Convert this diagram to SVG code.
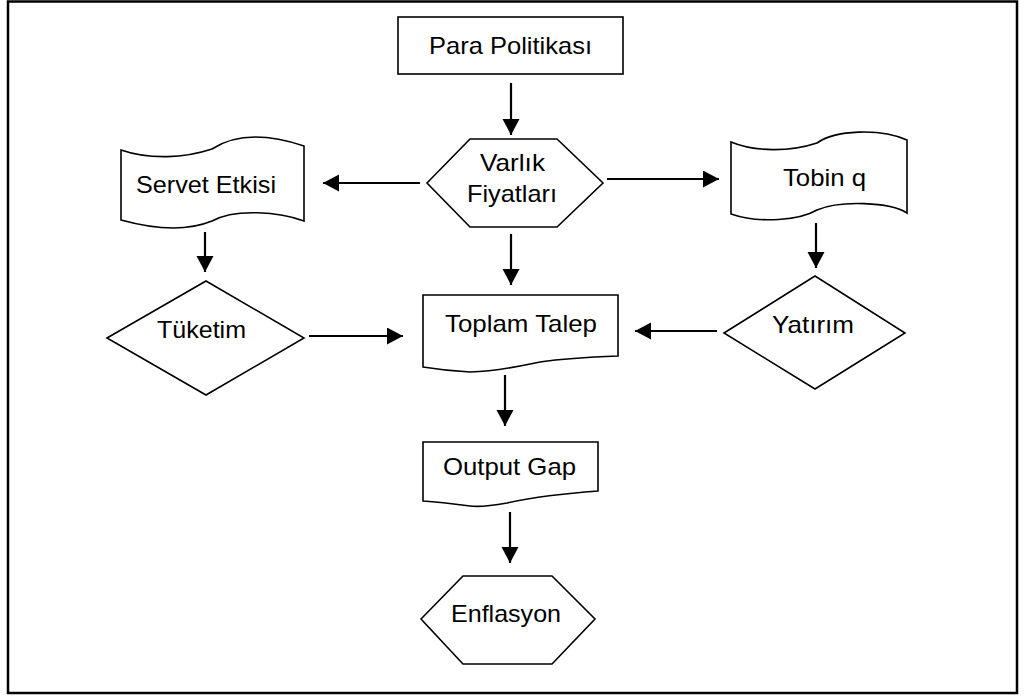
<svg xmlns="http://www.w3.org/2000/svg" width="1025" height="696" viewBox="0 0 1025 696">
<defs>
<style>
.shape{fill:#fff;stroke:#000;stroke-width:1.6;stroke-linejoin:miter}
.conn{stroke:#000;stroke-width:2.2;fill:none}
text{font-family:"Liberation Sans",Arial,sans-serif;font-size:24px;fill:#000}
</style>
<marker id="ah" markerUnits="userSpaceOnUse" markerWidth="18" markerHeight="18" refX="16" refY="8.5" orient="auto" viewBox="0 0 18 18">
<path d="M0,0 L16,8.5 L0,17 Z" fill="#000"/>
</marker>
</defs>
<rect x="0" y="0" width="1025" height="696" fill="#fff"/>
<rect id="frame" x="8" y="1.5" width="1009" height="691.5" fill="none" stroke="#000" stroke-width="2.5"/>

<g id="para">
<rect class="shape" x="398" y="17" width="225" height="57"/>
<text x="429" y="54" textLength="163" lengthAdjust="spacingAndGlyphs">Para Politikası</text>
</g>
<g id="varlik">
<polygon class="shape" points="427,183 470,139 557,139 603,183 557,227 470,227"/>
<text x="480" y="171" textLength="65" lengthAdjust="spacingAndGlyphs">Varlık</text>
<text x="467" y="202" textLength="90" lengthAdjust="spacingAndGlyphs">Fiyatları</text>
</g>
<g id="servet">
<path class="shape" d="M121,150 C150,160 185,158 212,149 C232,136 262,132 304,146 L304,221 C280,212 235,208 212,221 C185,232 150,228 121,220 Z"/>
<text x="136" y="193" textLength="140" lengthAdjust="spacingAndGlyphs">Servet Etkisi</text>
</g>
<g id="tobin">
<path class="shape" d="M731,142 C755,152 790,152 817,143 C835,130 880,128 907,140 L907,213 C890,202 840,200 817,210 C800,220 760,224 731,214 Z"/>
<text x="783" y="186" textLength="83" lengthAdjust="spacingAndGlyphs">Tobin q</text>
</g>
<g id="tuketim">
<polygon class="shape" points="107,338 206,281 304,338 206,395"/>
<text x="157" y="338" textLength="89" lengthAdjust="spacingAndGlyphs">Tüketim</text>
</g>
<g id="toplam">
<path class="shape" d="M423,295 L618,295 L618,356 C590,357 560,359 540,362 C520,366 500,371 470,372 C450,371 435,369 423,367 Z"/>
<text x="445" y="332" textLength="152" lengthAdjust="spacingAndGlyphs">Toplam Talep</text>
</g>
<g id="yatirim">
<polygon class="shape" points="724,333 815,276 905,333 815,389"/>
<text x="772" y="333" textLength="82" lengthAdjust="spacingAndGlyphs">Yatırım</text>
</g>
<g id="output">
<path class="shape" d="M423,442 L598,442 L598,491 C570,493 530,498 507,503 C490,506 478,507 470,506 C455,504 440,502 423,501 Z"/>
<text x="443" y="475" textLength="133" lengthAdjust="spacingAndGlyphs">Output Gap</text>
</g>
<g id="enflasyon">
<polygon class="shape" points="421,619 463,576 552,576 595,619 552,664 463,664"/>
<text x="451" y="622" textLength="110" lengthAdjust="spacingAndGlyphs">Enflasyon</text>
</g>

<g id="connectors">
<line class="conn" x1="511" y1="83" x2="511" y2="135" marker-end="url(#ah)"/>
<line class="conn" x1="420" y1="183" x2="323" y2="183" marker-end="url(#ah)"/>
<line class="conn" x1="607" y1="179" x2="719" y2="179" marker-end="url(#ah)"/>
<line class="conn" x1="205" y1="232" x2="205" y2="272" marker-end="url(#ah)"/>
<line class="conn" x1="816" y1="223" x2="816" y2="268" marker-end="url(#ah)"/>
<line class="conn" x1="511" y1="234" x2="511" y2="285" marker-end="url(#ah)"/>
<line class="conn" x1="309" y1="336" x2="403" y2="336" marker-end="url(#ah)"/>
<line class="conn" x1="717" y1="331" x2="635" y2="331" marker-end="url(#ah)"/>
<line class="conn" x1="505" y1="375" x2="505" y2="426" marker-end="url(#ah)"/>
<line class="conn" x1="510" y1="512" x2="510" y2="563" marker-end="url(#ah)"/>
</g>
</svg>
